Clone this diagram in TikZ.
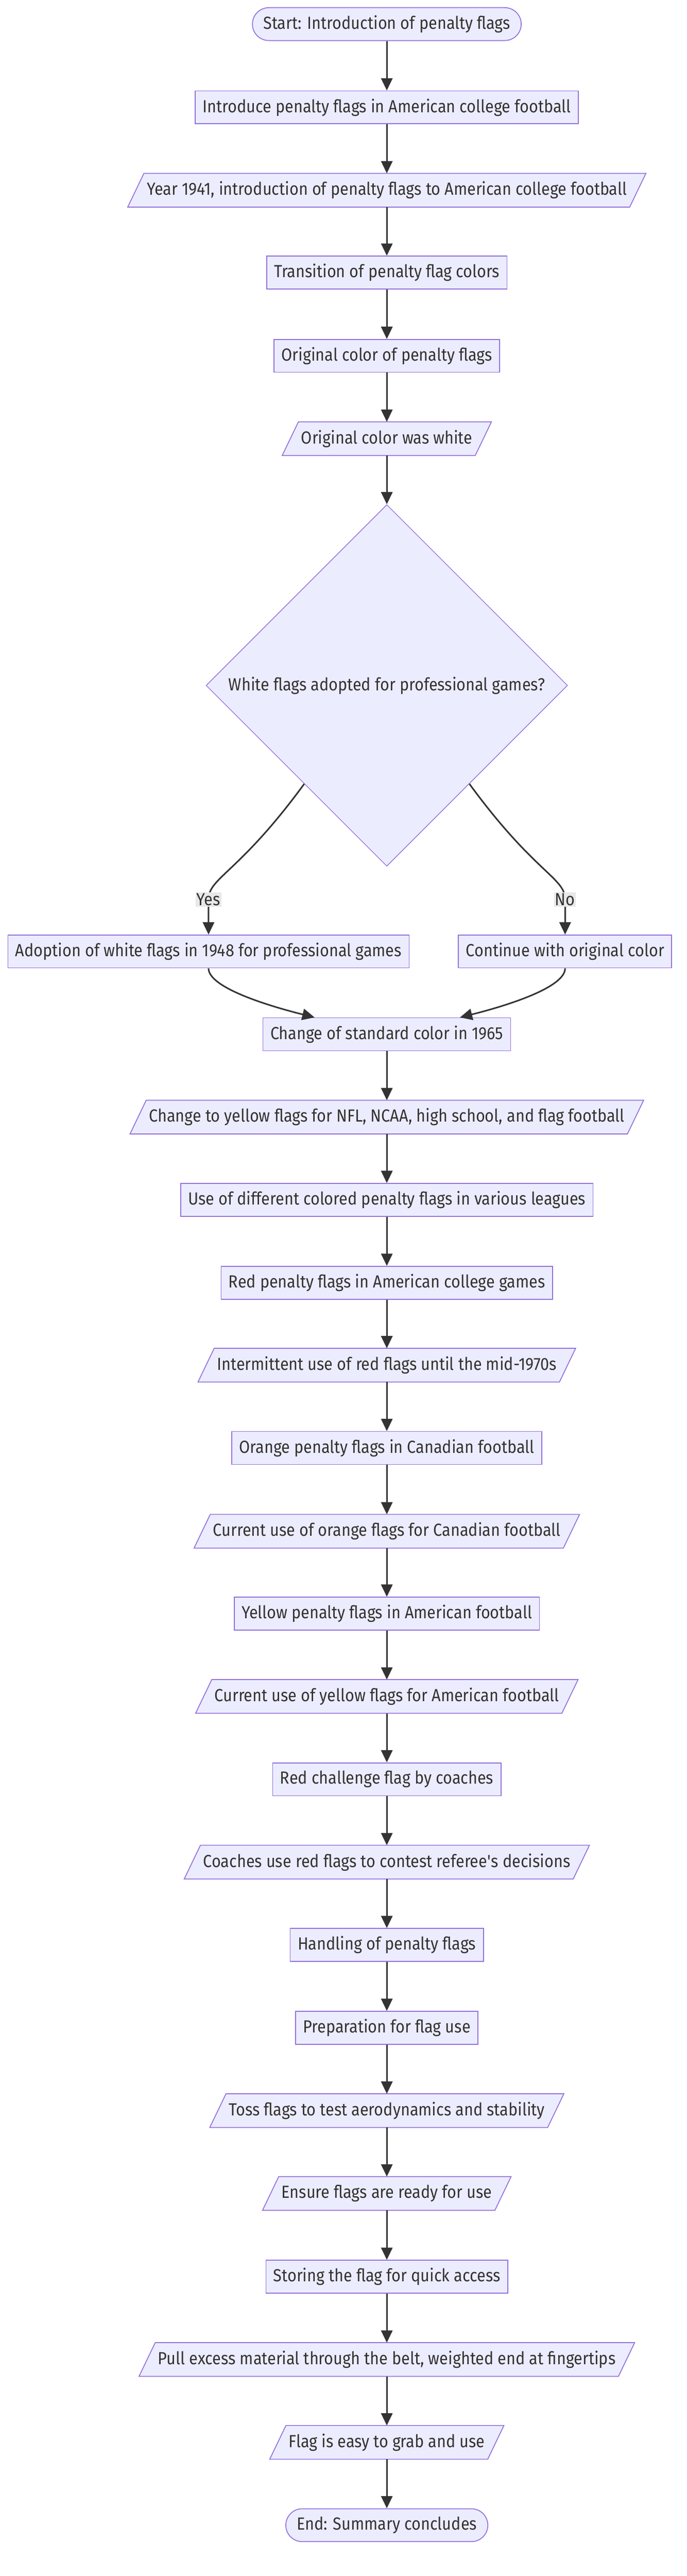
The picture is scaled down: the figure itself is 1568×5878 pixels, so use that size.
\documentclass[tikz,border=0pt]{standalone}
\usepackage{fontspec}
\setmainfont[FakeStretch=0.90]{Fira Sans}
\usetikzlibrary{shapes.geometric,arrows.meta,backgrounds}
\definecolor{nodefill}{HTML}{ECECFF}
\definecolor{nodeline}{HTML}{9370DB}
\definecolor{edgeline}{HTML}{333333}
\definecolor{lblfill}{HTML}{E8E8E8}
\tikzset{
  box/.style={draw=nodeline, fill=nodefill, line width=2pt, minimum height=75pt,
    inner xsep=17pt, text=edgeline, font=\fontsize{40}{48}\selectfont},
  term/.style={box, rounded corners=37.5pt, inner xsep=25pt},
  io/.style={box, draw=none, fill=none, inner xsep=24pt},
  ioshape/.style={draw=nodeline, fill=nodefill, line width=2pt},
  choice/.style={box, diamond, line width=1.5pt, minimum width=825pt,
    minimum height=825pt, aspect=1, inner sep=0pt},
  lbl/.style={fill=lblfill, text=edgeline, inner sep=2pt, font=\fontsize{40}{48}\selectfont},
  flow/.style={draw=edgeline, line width=3.5pt, -{Triangle[length=28pt,width=26pt]}}
}
\begin{document}
\begin{tikzpicture}[x=1pt, y=-1pt]
  \useasboundingbox (0,0) rectangle (1568,5878);
  \draw
    (883,55) node[term] (start) {Start: Introduction of penalty flags}
    (883,245) node[box] (intro) {Introduce penalty flags in American college football}
    (883,434) node[io] (year) {Year 1941, introduction of penalty flags to American college football}
    (883,622) node[box] (trans) {Transition of penalty flag colors}
    (883,812) node[box] (origc) {Original color of penalty flags}
    (883,1001) node[io] (origw) {Original color was white}
    (883,1564) node[choice] (dia) {White flags adopted for professional games?}
    (476,2171) node[box] (adopt) {Adoption of white flags in 1948 for professional games}
    (1290,2171) node[box] (cont) {Continue with original color}
    (883,2360) node[box] (std) {Change of standard color in 1965}
    (883,2549) node[io] (yel) {Change to yellow flags for NFL, NCAA, high school, and flag football}
    (883,2738) node[box] (leagues) {Use of different colored penalty flags in various leagues}
    (883,2927) node[box] (redcol) {Red penalty flags in American college games}
    (883,3115) node[io] (redint) {Intermittent use of red flags until the mid-1970s}
    (883,3304) node[box] (orange) {Orange penalty flags in Canadian football}
    (883,3494) node[io] (curor) {Current use of orange flags for Canadian football}
    (883,3682) node[box] (yellow) {Yellow penalty flags in American football}
    (883,3871) node[io] (curyel) {Current use of yellow flags for American football}
    (883,4060) node[box] (chal) {Red challenge flag by coaches}
    (883,4249) node[io] (coach) {Coaches use red flags to contest referee\textquotesingle s decisions}
    (883,4438) node[box] (handle) {Handling of penalty flags}
    (883,4627) node[box] (prep) {Preparation for flag use}
    (883,4816) node[io] (toss) {Toss flags to test aerodynamics and stability}
    (883,5005) node[io] (ready) {Ensure flags are ready for use}
    (883,5195) node[box] (store) {Storing the flag for quick access}
    (883,5384) node[io] (pull) {Pull excess material through the belt, weighted end at fingertips}
    (883,5573) node[io] (easy) {Flag is easy to grab and use}
    (883,5762) node[term] (stop) {End: Summary concludes};
  % parallelograms behind the io nodes
  \begin{scope}[on background layer]
    \foreach \n in {year,origw,yel,redint,curor,curyel,coach,toss,ready,pull,easy}
      \draw[ioshape] ([xshift=-18.5pt]\n.south west) -- ([xshift=-18.5pt]\n.south east)
        -- ([xshift=18.5pt]\n.north east) -- ([xshift=18.5pt]\n.north west) -- cycle;
  \end{scope}
  \begin{scope}[flow]
    \draw (start) to (intro);
    \draw (intro) to (year);
    \draw (year) to (trans);
    \draw (trans) to (origc);
    \draw (origc) to (origw);
    \draw (origw) to (dia);
    \draw (dia.230.5) .. controls +(-150,205) and +(0,-50) .. ([yshift=80pt]adopt.north)
      node[lbl] {Yes} -- (adopt.north);
    \draw (dia.-50.5) .. controls +(150,205) and +(0,-50) .. ([yshift=80pt]cont.north)
      node[lbl] {No} -- (cont.north);
    \draw (adopt.south) .. controls +(0,45) and +(-100,-25) .. ([xshift=-165pt]std.north);
    \draw (cont.south) .. controls +(0,45) and +(100,-25) .. ([xshift=167pt]std.north);
    \draw (std) to (yel);
    \draw (yel) to (leagues);
    \draw (leagues) to (redcol);
    \draw (redcol) to (redint);
    \draw (redint) to (orange);
    \draw (orange) to (curor);
    \draw (curor) to (yellow);
    \draw (yellow) to (curyel);
    \draw (curyel) to (chal);
    \draw (chal) to (coach);
    \draw (coach) to (handle);
    \draw (handle) to (prep);
    \draw (prep) to (toss);
    \draw (toss) to (ready);
    \draw (ready) to (store);
    \draw (store) to (pull);
    \draw (pull) to (easy);
    \draw (easy) to (stop);
  \end{scope}
\end{tikzpicture}
\end{document}
